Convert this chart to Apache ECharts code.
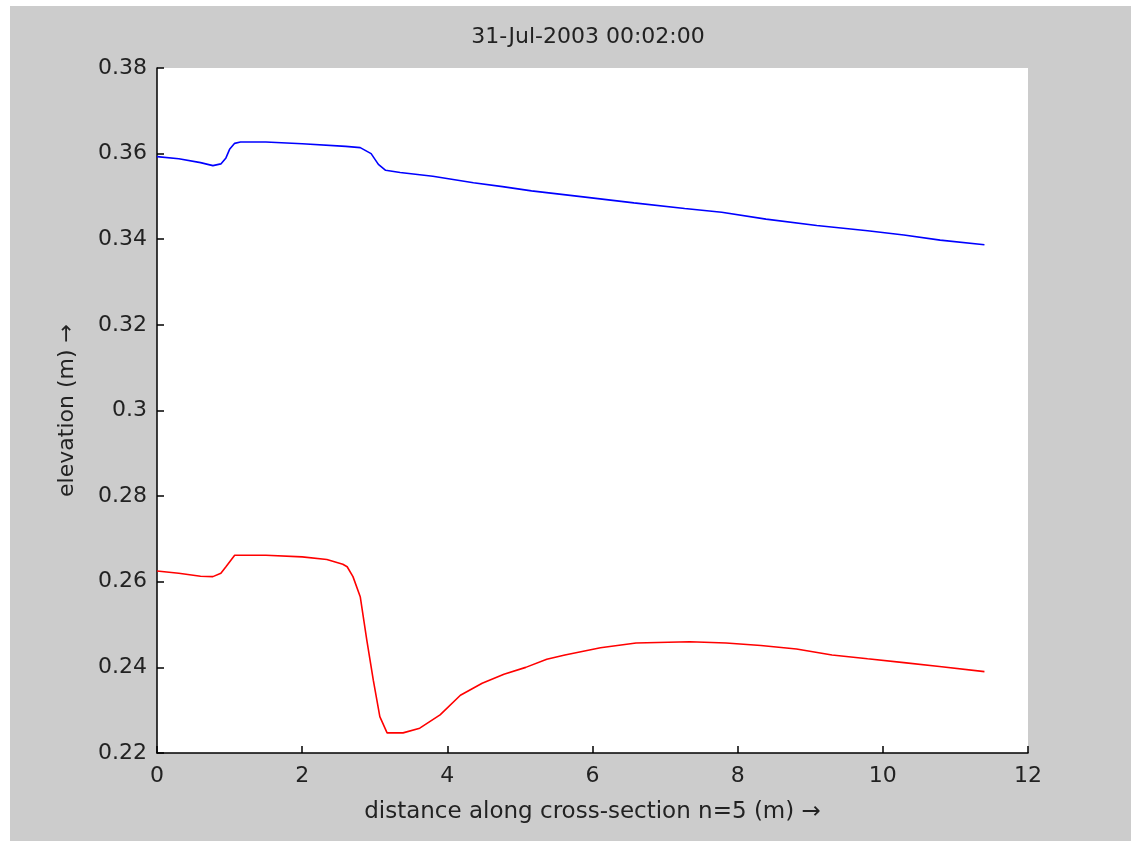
<!DOCTYPE html>
<html>
<head>
<meta charset="utf-8">
<script src="https://cdn.jsdelivr.net/npm/echarts@6/dist/echarts.min.js"></script>
<style>
html, body { margin: 0; padding: 0; background: #ffffff; }
#chart { position: absolute; left: 10px; top: 6px; width: 1121px; height: 835px; }
</style>
</head>
<body>
<div id="chart"></div>
<script>
var titleText = '31-Jul-2003 00:02:00';
var xName = 'distance along cross-section n=5 (m) \u2192';
var yName = 'elevation (m) \u2192';

// upper (blue) line
var blueX = [0, 0.3, 0.6, 0.77, 0.88, 0.95, 1.0, 1.07, 1.15, 1.5, 2.0, 2.6, 2.8, 2.95, 3.05, 3.15, 3.35, 3.8,
	4.36, 4.76, 5.16, 5.87, 6.57, 7.27, 7.78, 8.39, 9.09, 9.79, 10.29, 10.79, 11.4];
var blueY = [0.3593, 0.3588, 0.3579, 0.3572, 0.3576, 0.3590, 0.3610, 0.3624, 0.3627, 0.3627, 0.3623, 0.3617, 0.3614, 0.3600, 0.3575, 0.3561, 0.3556, 0.3547,
	0.3532, 0.3523, 0.3513, 0.3499, 0.3485, 0.3472, 0.3463, 0.3447, 0.3432, 0.3420, 0.3410, 0.3398, 0.3387];

// lower (red) line
var redX = [0, 0.3, 0.6, 0.77, 0.88, 0.95, 1.07, 1.5, 2.0, 2.34, 2.56, 2.62, 2.7, 2.8, 2.89, 2.98, 3.07, 3.17, 3.39, 3.62, 3.9,
	4.18, 4.48, 4.78, 5.08, 5.37, 5.62, 6.11, 6.6, 7.34, 7.84, 8.32, 8.81, 9.3, 9.79, 10.29, 10.78, 11.4];
var redY = [0.2625, 0.2620, 0.2613, 0.2612, 0.2620, 0.2635, 0.2662, 0.2662, 0.2658, 0.2652, 0.2641, 0.2635, 0.2612, 0.2565, 0.2464, 0.2370, 0.2285, 0.2247, 0.2247, 0.2258, 0.2289,
	0.2335, 0.2363, 0.2384, 0.2400, 0.2419, 0.2429, 0.2446, 0.2457, 0.2460, 0.2457, 0.2451, 0.2443, 0.2429, 0.2420, 0.2411, 0.2402, 0.2390];

function pairs(xs, ys) {
	var out = [];
	for (var i = 0; i < xs.length; i++) {
		out.push([xs[i], ys[i]]);
	}
	return out;
}

var font = 'DejaVu Sans, sans-serif';
var myChart = echarts.init(document.getElementById('chart'));
var option = {
	backgroundColor: '#cccccc',
	animation: false,
	title: {
		text: titleText,
		left: 578,
		top: 20,
		padding: 0,
		textAlign: 'center',
		textStyle: { color: '#222', fontSize: 22, fontWeight: 'normal', fontFamily: font }
	},
	grid: {
		left: 147,
		right: 103,
		top: 62,
		bottom: 88,
		show: true,
		backgroundColor: '#ffffff',
		borderWidth: 0
	},
	xAxis: {
		type: 'value',
		min: 0,
		max: 12,
		interval: 2,
		name: xName,
		nameLocation: 'middle',
		nameGap: 48,
		nameTextStyle: { color: '#222', fontSize: 23, fontFamily: font },
		axisLine: { lineStyle: { color: '#000', width: 1.5 } },
		axisTick: { inside: true, length: 7, lineStyle: { color: '#000', width: 1.5 } },
		axisLabel: { color: '#222', fontSize: 22, fontFamily: font, margin: 12 },
		splitLine: { show: false }
	},
	yAxis: {
		type: 'value',
		min: 0.22,
		max: 0.38,
		interval: 0.02,
		name: yName,
		nameLocation: 'middle',
		nameGap: 79,
		nameRotate: 90,
		nameTextStyle: { color: '#222', fontSize: 22, fontFamily: font },
		axisLine: { lineStyle: { color: '#000', width: 1.5 } },
		axisTick: { inside: true, length: 7, lineStyle: { color: '#000', width: 1.5 } },
		axisLabel: { color: '#222', fontSize: 22, fontFamily: font, margin: 10 },
		splitLine: { show: false }
	},
	series: [
		{
			type: 'line',
			data: pairs(blueX, blueY),
			symbol: 'none',
			lineStyle: { color: '#0000ff', width: 1.6 }
		},
		{
			type: 'line',
			data: pairs(redX, redY),
			symbol: 'none',
			lineStyle: { color: '#ff0000', width: 1.6 }
		}
	]
};
myChart.setOption(option);
</script>
</body>
</html>
